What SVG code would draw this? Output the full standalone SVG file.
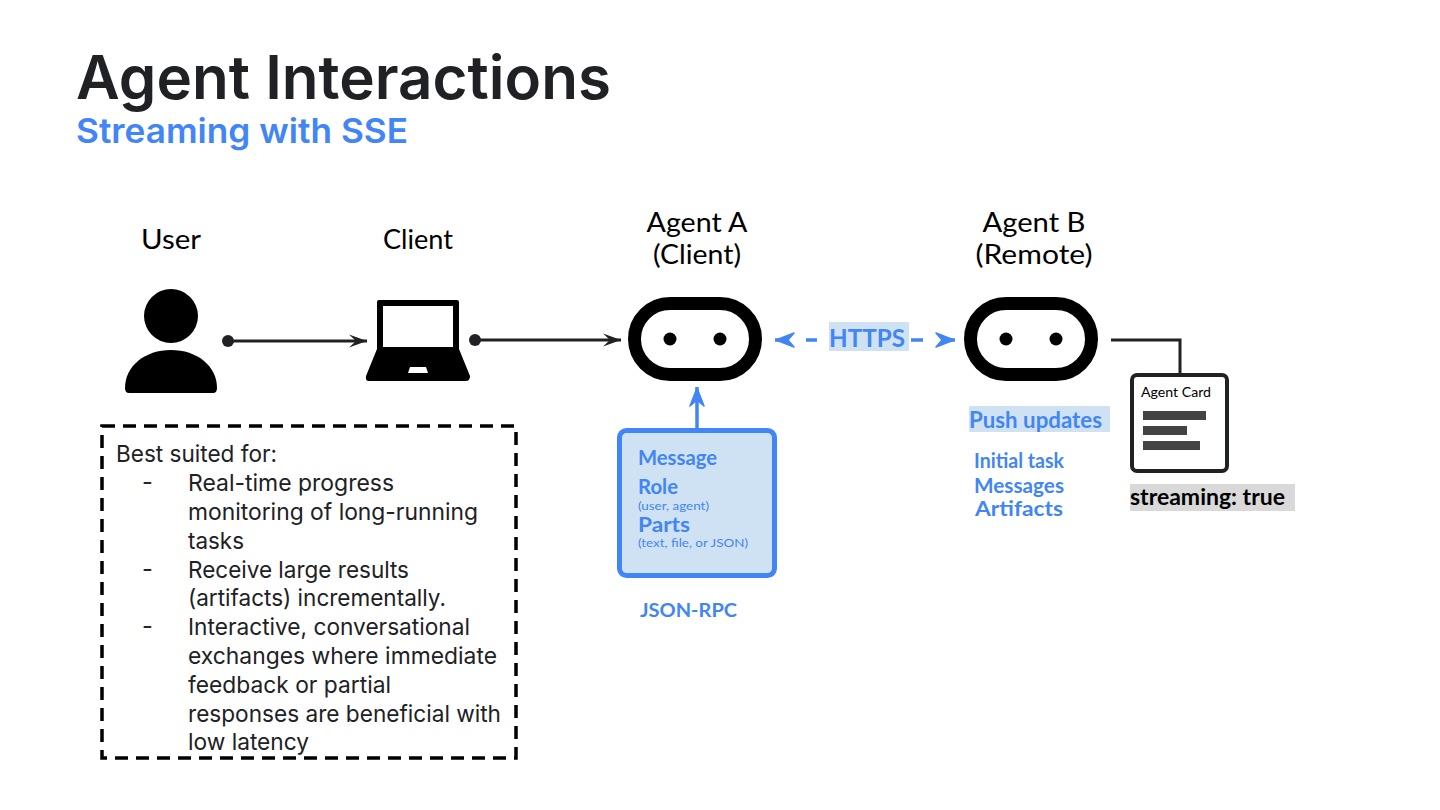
<svg xmlns="http://www.w3.org/2000/svg" width="1440" height="810" viewBox="0 0 1440 810">
<defs>
<style>
.hand{font-family:"Lato","Noto Sans",sans-serif}
.blue{fill:#4285f4}
.body{font-family:"Inter","Noto Sans",sans-serif;font-size:23.5px;fill:#202124;font-weight:400}
.label{font-size:27px;fill:#000;text-anchor:middle}
.bold{font-weight:700}
.bot{fill:#fff;stroke:#000;stroke-width:13}
.conn{fill:none;stroke:#202124;stroke-width:3}
.bconn{fill:none;stroke:#4285f4;stroke-width:3.5}
</style>
<marker id="ah" markerUnits="userSpaceOnUse" markerWidth="20" markerHeight="16" refX="18" refY="7" orient="auto"><path d="M0 .5L18 7L0 13.5L7 7Z" fill="#202124"/></marker>
<marker id="bh" markerUnits="userSpaceOnUse" markerWidth="24" markerHeight="20" refX="21" refY="9" orient="auto-start-reverse"><path d="M2 2L20 9L2 16L8 9Z" fill="#4285f4" stroke="#4285f4" stroke-width="1.5" stroke-linejoin="round"/></marker>
</defs>
<rect width="1440" height="810" fill="#fff"/>
<g id="title">
<text x="76" y="99" font-family="Inter,'Noto Sans',sans-serif" font-size="60" font-weight="600" fill="#202124" textLength="535" lengthAdjust="spacingAndGlyphs">Agent Interactions</text>
<text x="76" y="143" font-family="Inter,'Noto Sans',sans-serif" font-size="34" font-weight="600" fill="#4285f4" textLength="332" lengthAdjust="spacingAndGlyphs">Streaming with SSE</text>
</g>
<g id="connectors">
<circle cx="228" cy="341" r="6" fill="#202124"/>
<path class="conn" d="M228 341H367" marker-end="url(#ah)"/>
<circle cx="475" cy="340" r="6" fill="#202124"/>
<path class="conn" d="M475 340H621" marker-end="url(#ah)"/>
<path class="bconn" d="M775 340H786M806 340H817M911 340H923M944 340H955" marker-start="url(#bh)" marker-end="url(#bh)"/>
<path class="bconn" d="M697 430V387" marker-end="url(#bh)"/>
<path class="conn" d="M1111 340H1180V373"/>
</g>
<g id="user">
<text class="hand label" x="171" y="249" textLength="60" lengthAdjust="spacingAndGlyphs">User</text>
<circle cx="171" cy="316" r="27" fill="#000"/>
<path d="M125 388C125 366 145 350 171 350C197 350 217 366 217 388Q217 393 213 393H129Q125 393 125 388Z" fill="#000"/>
</g>
<g id="client">
<text class="hand label" x="418" y="249" textLength="70" lengthAdjust="spacingAndGlyphs">Client</text>
<path d="M379 300H457Q459 300 459 302V349L470 376Q470 381 466 381H369Q365 381 366 376L377 349V302Q377 300 379 300Z" fill="#000"/>
<rect x="383" y="306" width="70" height="41" fill="#fff"/>
<path d="M410 367H426L428 373H408Z" fill="#fff"/>
</g>
<g id="agent-a">
<text class="hand label" x="697" y="232" textLength="101" lengthAdjust="spacingAndGlyphs">Agent A</text>
<text class="hand label" x="697" y="264" textLength="88" lengthAdjust="spacingAndGlyphs">(Client)</text>
<rect class="bot" x="634.5" y="303.5" width="121" height="71" rx="35.5"/>
<circle cx="670" cy="339" r="6.5" fill="#000"/>
<circle cx="720" cy="339" r="6.5" fill="#000"/>
</g>
<g id="agent-b">
<text class="hand label" x="1034" y="232" textLength="103" lengthAdjust="spacingAndGlyphs">Agent B</text>
<text class="hand label" x="1034" y="264" textLength="117" lengthAdjust="spacingAndGlyphs">(Remote)</text>
<rect class="bot" x="970.5" y="303.5" width="121" height="71" rx="35.5"/>
<circle cx="1006" cy="339" r="6.5" fill="#000"/>
<circle cx="1056" cy="339" r="6.5" fill="#000"/>
</g>
<g id="https">
<rect x="829" y="322" width="80" height="29" fill="#cfe2f3"/>
<text class="hand blue bold" x="829" y="347" font-size="24" textLength="76" lengthAdjust="spacingAndGlyphs">HTTPS</text>
</g>
<g id="message">
<rect x="619.5" y="430.5" width="155" height="145" rx="7" fill="#cfe2f3" stroke="#4285f4" stroke-width="5"/>
<text class="hand blue bold" x="638" y="465" font-size="21" textLength="79" lengthAdjust="spacingAndGlyphs">Message</text>
<text class="hand blue bold" x="638" y="494" font-size="21" textLength="40" lengthAdjust="spacingAndGlyphs">Role</text>
<text class="hand blue" x="638" y="510" font-size="11" textLength="71" lengthAdjust="spacingAndGlyphs">(user, agent)</text>
<text class="hand blue bold" x="638" y="532" font-size="21" textLength="52" lengthAdjust="spacingAndGlyphs">Parts</text>
<text class="hand blue" x="638" y="547" font-size="11" textLength="110" lengthAdjust="spacingAndGlyphs">(text, file, or JSON)</text>
</g>
<text id="json-rpc" class="hand blue bold" x="640" y="617" font-size="19" textLength="97" lengthAdjust="spacingAndGlyphs">JSON-RPC</text>
<g id="push-updates">
<rect x="969" y="406" width="141" height="26" fill="#cfe2f3"/>
<text class="hand blue bold" x="969" y="428" font-size="23" textLength="133" lengthAdjust="spacingAndGlyphs">Push updates</text>
<text class="hand blue bold" x="974" y="468" font-size="20" textLength="90" lengthAdjust="spacingAndGlyphs">Initial task</text>
<text class="hand blue bold" x="974" y="493" font-size="20" textLength="90" lengthAdjust="spacingAndGlyphs">Messages</text>
<text class="hand blue bold" x="975" y="516" font-size="20" textLength="88" lengthAdjust="spacingAndGlyphs">Artifacts</text>
</g>
<g id="agent-card">
<rect x="1132" y="375" width="95" height="96" rx="5" fill="#fff" stroke="#202124" stroke-width="4"/>
<text class="hand" x="1141" y="397" font-size="13.5" fill="#000" textLength="70" lengthAdjust="spacingAndGlyphs">Agent Card</text>
<rect x="1143" y="411" width="63" height="9" fill="#434343"/>
<rect x="1143" y="426" width="44" height="9" fill="#434343"/>
<rect x="1143" y="441" width="57" height="9" fill="#434343"/>
<rect x="1130" y="484" width="165" height="27" fill="#d9d9d9"/>
<text class="hand bold" x="1130" y="505" font-size="23" fill="#000" textLength="155" lengthAdjust="spacingAndGlyphs">streaming: true</text>
</g>
<g id="notes">
<rect x="102" y="426" width="414" height="332" fill="none" stroke="#000" stroke-width="3.5" stroke-dasharray="13 8"/>
<text class="body" x="116" y="462" textLength="161" lengthAdjust="spacingAndGlyphs">Best suited for:</text>
<text class="body" x="142" y="490">-</text><text class="body" x="188" y="491" textLength="206" lengthAdjust="spacingAndGlyphs">Real-time progress</text>
<text class="body" x="188" y="520" textLength="290" lengthAdjust="spacingAndGlyphs">monitoring of long-running</text>
<text class="body" x="188" y="549" textLength="56" lengthAdjust="spacingAndGlyphs">tasks</text>
<text class="body" x="142" y="577">-</text><text class="body" x="188" y="578" textLength="221" lengthAdjust="spacingAndGlyphs">Receive large results</text>
<text class="body" x="188" y="606" textLength="258" lengthAdjust="spacingAndGlyphs">(artifacts) incrementally.</text>
<text class="body" x="142" y="634">-</text><text class="body" x="188" y="635" textLength="282" lengthAdjust="spacingAndGlyphs">Interactive, conversational</text>
<text class="body" x="188" y="664" textLength="309" lengthAdjust="spacingAndGlyphs">exchanges where immediate</text>
<text class="body" x="188" y="693" textLength="203" lengthAdjust="spacingAndGlyphs">feedback or partial</text>
<text class="body" x="188" y="722" textLength="313" lengthAdjust="spacingAndGlyphs">responses are beneficial with</text>
<text class="body" x="188" y="750" textLength="121" lengthAdjust="spacingAndGlyphs">low latency</text>
</g>
</svg>
